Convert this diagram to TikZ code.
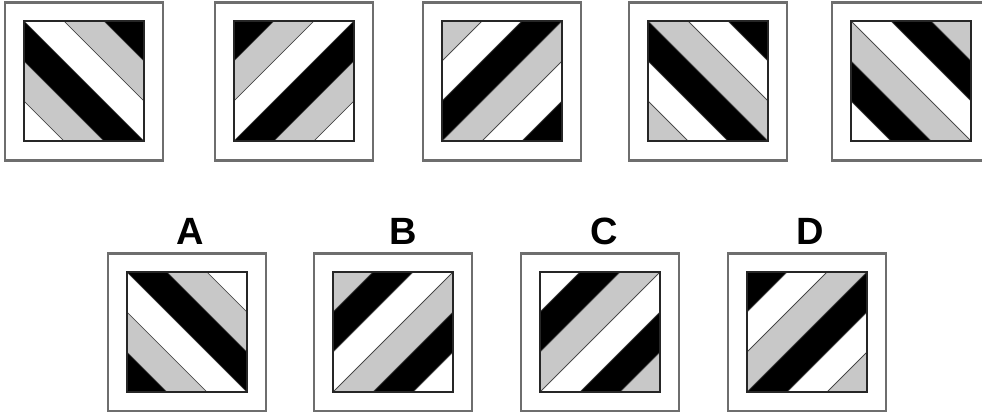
\documentclass[tikz,border=0pt]{standalone}
\usepackage{fontspec}
\setmainfont{Liberation Sans}
\usepackage{tikz}
\definecolor{stripegray}{RGB}{200,200,200}
\definecolor{framegray}{RGB}{110,110,110}

% #1,#2: top-left of inner square, #3: 0 = \ stripes, 1 = / stripes, #4-#6: colour cycle
\newcommand{\stripetile}[6]{%
  \draw[framegray, line width=2.4pt] (#1-19,#2-18.5) rectangle ++(158,158);
  \begin{scope}[shift={(#1,#2)}, x=120pt, y=-120pt]
    \clip (0,0) rectangle (1,1);
    \foreach \k/\c in {0/#4,1/#5,2/#6,3/#4,4/#5,5/#6} {
      \ifnum#3=0
        \pgfmathsetmacro\lo{-1+\k/3}
      \else
        \pgfmathsetmacro\lo{\k/3}
      \fi
      \pgfmathsetmacro\hi{\lo+1/3}
      \ifnum#3=0
        \filldraw[fill=\c, draw=black!75, line width=0.7pt] (\lo-1,-1) -- (\lo+2,2) -- (\hi+2,2) -- (\hi-1,-1) -- cycle;
      \else
        \filldraw[fill=\c, draw=black!75, line width=0.7pt] (\lo+1,-1) -- (\lo-2,2) -- (\hi-2,2) -- (\hi+1,-1) -- cycle;
      \fi
    }
  \end{scope}
  \draw[black!85, line width=2.4pt] (#1,#2) rectangle ++(120,120);
}

\begin{document}
\begin{tikzpicture}[x=1pt, y=-1pt]
\useasboundingbox (0,0) rectangle (982,412);

% Top row
\stripetile{24}{21}{0}{white}{stripegray}{black}
\stripetile{234}{21}{1}{black}{stripegray}{white}
\stripetile{442}{21}{1}{stripegray}{white}{black}
\stripetile{648}{21}{0}{stripegray}{white}{black}
\stripetile{851}{21}{0}{white}{black}{stripegray}

% Answer options
\stripetile{127}{272}{0}{black}{stripegray}{white}
\stripetile{333}{272}{1}{stripegray}{black}{white}
\stripetile{540}{272}{1}{white}{black}{stripegray}
\stripetile{747}{272}{1}{black}{white}{stripegray}

% Labels
\node[font=\bfseries\fontsize{38}{38}\selectfont] (optA) at (190,231) {A};
\node[font=\bfseries\fontsize{38}{38}\selectfont] (optB) at (403,231) {B};
\node[font=\bfseries\fontsize{38}{38}\selectfont] (optC) at (604,231) {C};
\node[font=\bfseries\fontsize{38}{38}\selectfont] (optD) at (810,231) {D};

\end{tikzpicture}
\end{document}
